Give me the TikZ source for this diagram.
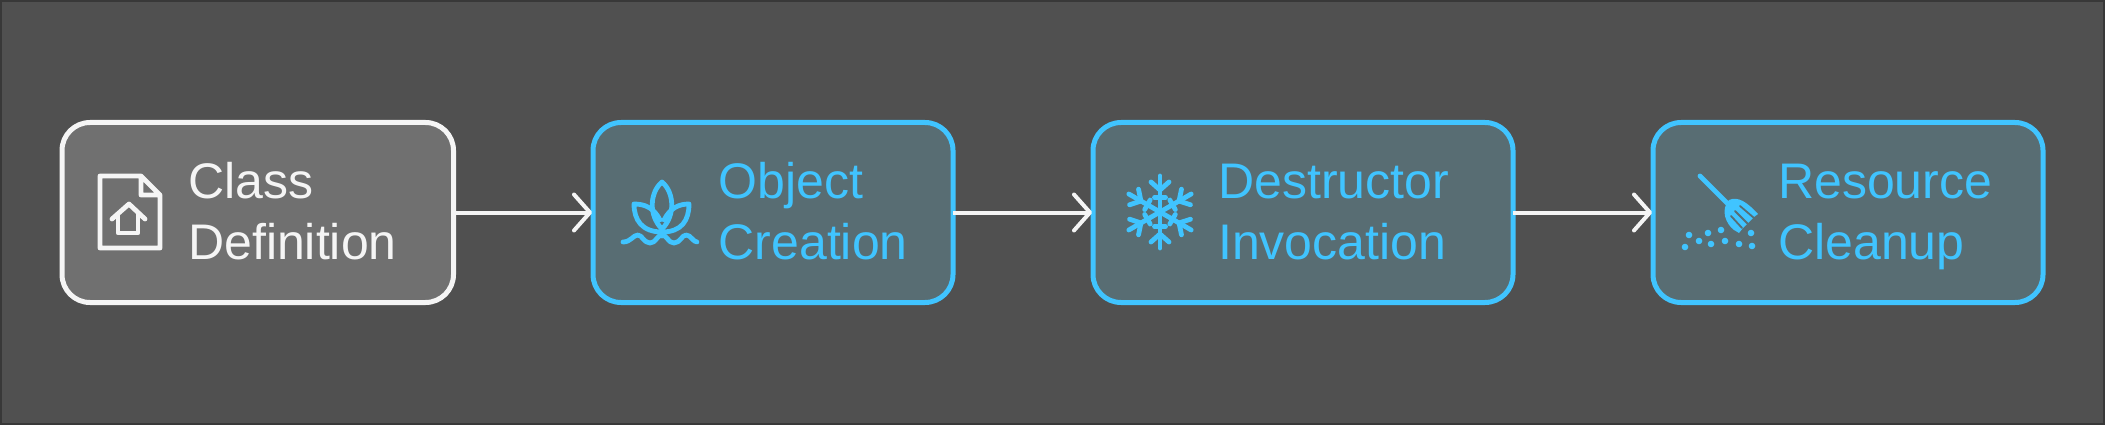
\documentclass[tikz,border=0pt]{standalone}
\usepackage{fontspec}
\setmainfont{Liberation Sans}
\usetikzlibrary{arrows.meta}
\definecolor{bgfill}{HTML}{505050}
\definecolor{bgedge}{HTML}{383838}
\definecolor{whitefill}{HTML}{707070}
\definecolor{whiteline}{HTML}{F5F5F5}
\definecolor{bluefill}{HTML}{586D73}
\definecolor{blueline}{HTML}{40C4FF}
\tikzset{
  stagebox/.style={draw,rounded corners=28pt,line width=5pt,outer sep=0pt,minimum height=180pt},
  classbox/.style={stagebox,draw=whiteline,fill=whitefill},
  plainbox/.style={stagebox,draw=blueline,fill=bluefill},
  stagetext/.style={anchor=west,align=left,inner sep=0pt,font=\fontsize{50}{60.5}\selectfont},
  flowline/.style={draw=whiteline,line width=4pt,shorten >=1pt,-{Straight Barb[length=16pt,width=36pt,line width=4pt,round]}},
  iconline/.style={line width=4.8pt,line cap=round,line join=round}
}
\begin{document}
\begin{tikzpicture}[x=1pt,y=-1pt]
\useasboundingbox (0,0) rectangle (2105,425);
\draw[draw=bgedge,fill=bgfill,line width=2pt] (1,1) rectangle (2104,424);
% stages
\node[classbox,minimum width=391.5pt] (classdef) at (257.75,212.5) {};
\node[plainbox,minimum width=360pt] (objcreate) at (773,212.5) {};
\node[plainbox,minimum width=420pt] (destruct) at (1303,212.5) {};
\node[plainbox,minimum width=390pt] (cleanup) at (1848,212.5) {};
\node[stagetext,text=whiteline] (classtext) at (188,217) {\strut Class\\\strut Definition};
\node[stagetext,text=blueline] (objtext) at (718.5,217) {\strut Object\\\strut Creation};
\node[stagetext,text=blueline] (desttext) at (1218,217) {\strut Destructor\\\strut Invocation};
\node[stagetext,text=blueline] (cleantext) at (1778,217) {\strut Resource\\\strut Cleanup};
% connectors
\draw[flowline] (classdef) -- (objcreate);
\draw[flowline] (objcreate) -- (destruct);
\draw[flowline] (destruct) -- (cleanup);
% file icon
\begin{scope}[iconline,draw=whiteline]
\draw (141,176) -- (100,176) -- (100,248) -- (160,248) -- (160,195) -- (141,176) -- (141,195) -- (160,195);
\draw (112,219) -- (129,204) -- (145,219);
\draw (118,214) -- (118,233) -- (138,233) -- (138,214);
\end{scope}
% lotus icon
\begin{scope}[iconline,draw=blueline]
\draw (662,182) .. controls (650,192) and (648,215) .. (662,229) .. controls (676,215) and (674,192) .. (662,182);
\draw (662,232) .. controls (642,232) and (634,220) .. (634,204) .. controls (645,204) and (654,208) .. (660,220);
\draw (662,232) .. controls (682,232) and (689,220) .. (689,204) .. controls (679,204) and (670,208) .. (664,220);
\draw (662,229) -- (662,236);
\draw (623,242) .. controls (631,242) and (633,235) .. (638,235) .. controls (642,235) and (644,243) .. (650,243) .. controls (656,243) and (657,235) .. (662,235) .. controls (667,235) and (668,243) .. (674,243) .. controls (680,243) and (682,235) .. (686,235) .. controls (691,235) and (693,242) .. (697,242);
\end{scope}
% snowflake icon
\begin{scope}[iconline,draw=blueline,shift={(1160,212)}]
\foreach \armang in {0,60,...,300}{
\begin{scope}[rotate=\armang]
\draw (0,0) -- (0,-36);
\draw (-9,-30) -- (0,-22) -- (9,-30);
\draw (-5.5,-14.5) -- (5.5,-14.5);
\end{scope}
}
\end{scope}
% broom icon
\begin{scope}[iconline,draw=blueline]
\draw (1700,176) -- (1728,204);
\fill[blueline] (1729,200) .. controls (1738,196) and (1747,202) .. (1758,214) -- (1754,217) -- (1749,222) -- (1743,228) -- (1739,233) -- (1734,230) .. controls (1726,224) and (1720,210) .. (1729,200) -- cycle;
\draw[bluefill,line width=1.8pt] (1740,206) -- (1754,218);
\draw[bluefill,line width=1.8pt] (1735,211) -- (1748,224);
\draw[bluefill,line width=1.8pt] (1731,216) -- (1742,228);
\foreach \dotx/\doty in {1689/235,1708/233,1721/230,1751/233,1699/241,1711/244,1725/241,1739/244,1752/246,1685/247}{
\fill[blueline] (\dotx,\doty) circle[radius=3.3];
}
\end{scope}
\end{tikzpicture}
\end{document}
